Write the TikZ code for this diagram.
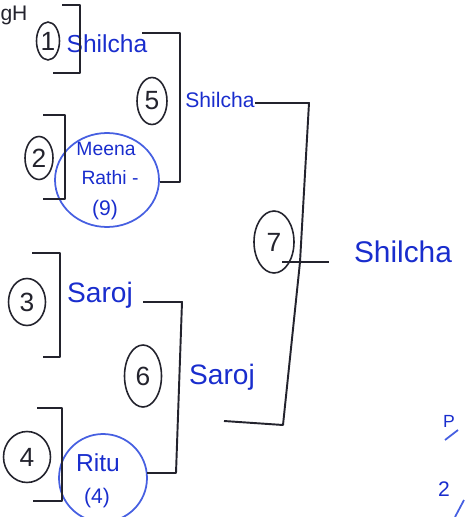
\documentclass[tikz,border=0pt]{standalone}
\usepackage{fontspec}
\setmainfont{Liberation Sans}
\usetikzlibrary{shapes.geometric}
\definecolor{ink}{RGB}{35,35,45}
\definecolor{pen}{RGB}{25,45,205}
\definecolor{ringblue}{RGB}{70,95,225}
\begin{document}
\begin{tikzpicture}[x=0.02cm,y=-0.02cm,
    bracket/.style={draw=ink,line width=1.1pt,line join=round},
    match/.style={draw=ink,ellipse,line width=0.9pt,inner sep=0pt,text=ink,font=\fontsize{15}{15}\selectfont},
    player/.style={text=pen,inner sep=1pt,font=\fontsize{14}{14}\selectfont},
    seed/.style={draw=ringblue,ellipse,line width=1pt,inner sep=0pt}]
    \useasboundingbox (0,0) rectangle (464,517);

    \node[match,minimum width=0.46cm,minimum height=0.76cm] (M1) at (48,41) {1};
    \node[match,minimum width=0.56cm,minimum height=0.86cm] (M2) at (39,158) {2};
    \node[match,minimum width=0.74cm,minimum height=0.94cm] (M3) at (27,302) {3};
    \node[match,minimum width=0.94cm,minimum height=1.02cm] (M4) at (27,457) {4};
    \node[match,minimum width=0.60cm,minimum height=0.94cm] (M5) at (152,101) {5};
    \node[match,minimum width=0.74cm,minimum height=1.24cm] (M6) at (143,376) {6};
    \node[match,minimum width=0.80cm,minimum height=1.24cm] (M7) at (274,242) {7};

    \node[seed,minimum width=2.08cm,minimum height=1.88cm] (S2) at (107,180) {};
    \node[seed,minimum width=1.76cm,minimum height=1.76cm] (S4) at (103,478) {};

    \node[player] (W1) at (107,44) {Shilcha};
    \node[player,font=\fontsize{12}{12}\selectfont] (W5) at (220,100) {Shilcha};
    \node[player,font=\fontsize{17}{17}\selectfont] (W7) at (403,252) {Shilcha};
    \node[player,font=\fontsize{16}{16}\selectfont] (W3) at (100,295) {Saroj};
    \node[player,font=\fontsize{16}{16}\selectfont] (W6) at (222,377) {Saroj};
    \node[player,font=\fontsize{11}{11}\selectfont] (P2a) at (106,149) {Meena};
    \node[player,font=\fontsize{11}{11}\selectfont] (P2b) at (110,178) {Rathi -};
    \node[player,font=\fontsize{12}{12}\selectfont] (P2c) at (105,210) {(9)};
    \node[player,font=\fontsize{14}{14}\selectfont] (P4a) at (98,463) {Ritu};
    \node[player,font=\fontsize{12}{12}\selectfont] (P4b) at (97,498) {(4)};
    \node[player,font=\fontsize{10}{10}\selectfont] (N1) at (449,421) {P};
    \node[player,font=\fontsize{12}{12}\selectfont] (N2) at (444,489) {2};
    \node[text=ink,font=\fontsize{12}{12}\selectfont,inner sep=1pt] (N3) at (14,15) {gH};

    \coordinate (B1t) at (62,5); \coordinate (B1b) at (53,73);
    \coordinate (B2t) at (43,115); \coordinate (B2b) at (43,199);
    \coordinate (B3t) at (32,253); \coordinate (B3b) at (43,357);
    \coordinate (B4t) at (37,408); \coordinate (B4b) at (33,501);
    \coordinate (B5t) at (142,33); \coordinate (B5b) at (160,182);
    \coordinate (B6t) at (143,302); \coordinate (B6b) at (147,473);
    \coordinate (B7t) at (255,103); \coordinate (B7b) at (224,421);
    \coordinate (K7) at (282,262); \coordinate (K7e) at (329,262);

    \draw[bracket] (B1t) -- ++(18,0) |- (B1b); \draw[bracket] (B2t) -- ++(22,0) |- (B2b);
    \draw[bracket] (B3t) -- ++(28,0) |- (B3b); \draw[bracket] (B4t) -- ++(25,0) |- (B4b);
    \draw[bracket] (B5t) -- ++(38,0) |- (B5b); \draw[bracket] (B6t) -- ++(39,0) -- (176,473) -- (B6b);
    \draw[bracket] (B7t) -- (309,103) -- (300,262) -- (283,425) -- (B7b); \draw[bracket] (K7) -- (K7e);
    \draw[draw=ringblue,line width=1pt] (445,440) -- (458,430); \draw[draw=ringblue,line width=1pt] (455,517) -- (464,500);
\end{tikzpicture}
\end{document}
